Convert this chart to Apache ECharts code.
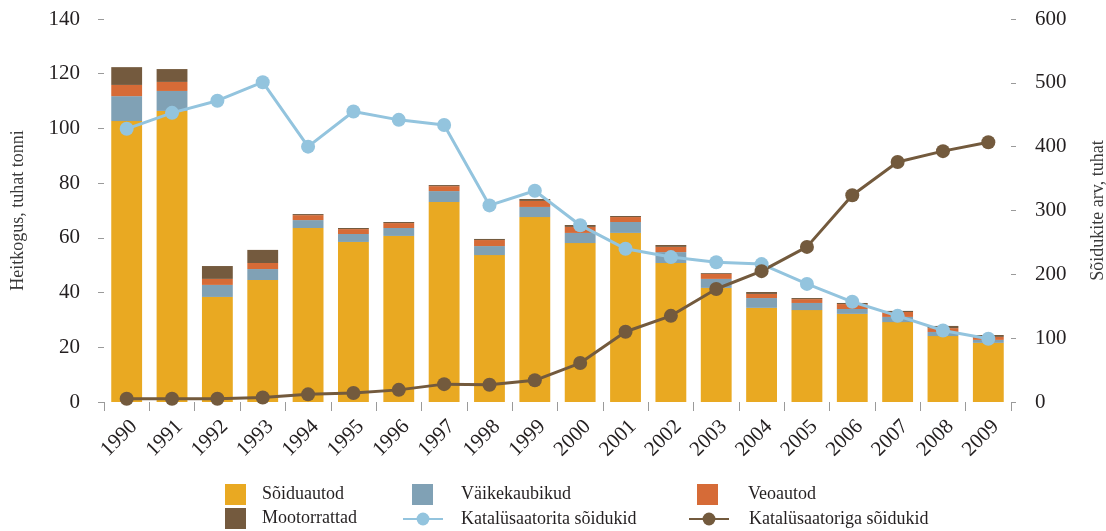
<!DOCTYPE html>
<html>
<head>
<meta charset="utf-8">
<script src="https://cdn.jsdelivr.net/npm/echarts@6/dist/echarts.min.js"></script>
<style>
  html, body { margin: 0; padding: 0; background: #fff; }
  #chart { width: 1106px; height: 531px; }
</style>
</head>
<body>
<div id="chart"></div>
<script>
// Andmed
const years = ['1990','1991','1992','1993','1994','1995','1996','1997','1998','1999',
               '2000','2001','2002','2003','2004','2005','2006','2007','2008','2009'];
const soiduautod    = [102.7,106.4,38.4,44.6,63.6,58.5,60.7,73.1,53.7,67.6,58.1,61.8,50.8,41.7,34.4,33.6,32.2,29.2,24.1,21.6];
const vaikekaubikud = [9.1,7.3,4.4,4.0,2.9,2.9,2.9,4.0,3.3,3.7,3.7,4.0,4.0,3.3,3.6,2.6,1.8,1.9,1.5,1.1];
const veoautod      = [4.1,3.3,2.2,2.2,1.8,1.8,1.8,1.8,2.2,2.2,2.2,1.8,1.9,1.8,1.5,1.4,1.8,1.8,1.4,1.1];
const mootorrattad  = [6.5,4.7,4.7,4.8,0.4,0.4,0.4,0.4,0.4,0.7,0.7,0.4,0.7,0.3,0.7,0.4,0.4,0.4,0.8,0.7];
const katalysaatorita = [428,453,472,501,400,455,442,434,308,331,277,240,227,219,216,185,157,135,112,99];
const katalysaatoriga = [5,5,5,7,12,14,19,28,27,34,61,110,135,177,205,243,324,376,393,407];

const font = 'Liberation Serif';
const tickColor = '#9a9a9a';
const textColor = '#231f20';

const chart = echarts.init(document.getElementById('chart'));

function barSeries(name, data, color) {
    return {
        name: name,
        type: 'bar',
        stack: 'heide',
        data: data,
        barWidth: '68%',
        itemStyle: { color: color },
        emphasis: { disabled: true }
    };
}

function lineSeries(name, data, color) {
    return {
        name: name,
        type: 'line',
        yAxisIndex: 1,
        data: data,
        symbol: 'circle',
        symbolSize: 14,
        lineStyle: { color: color, width: 3 },
        itemStyle: { color: color },
        emphasis: { disabled: true },
        z: 5
    };
}

// üks legendi kirje = üks komponent, et veerud paigutuks nagu originaalis
function legendItem(name, left, top, w, h, pad, icon) {
    const item = {
        data: [name],
        left: left,
        top: top,
        padding: 0,
        itemWidth: w,
        itemHeight: h,
        selectedMode: false,
        textStyle: { fontFamily: font, fontSize: 18, color: textColor, padding: [0, 0, 0, pad] }
    };
    if (icon) item.icon = icon;
    return item;
}

const option = {
    animation: false,
    textStyle: { fontFamily: font },
    grid: { left: 104, right: 95, top: 19, bottom: 129, outerBoundsMode: 'none' },
    legend: [
        legendItem('Sõiduautod', 225, 484, 21, 21, 11, 'rect'),
        legendItem('Väikekaubikud', 412, 484, 21, 21, 23, 'rect'),
        legendItem('Veoautod', 697, 484, 21, 21, 25, 'rect'),
        legendItem('Mootorrattad', 225, 508, 21, 21, 11, 'rect'),
        legendItem('Katalüsaatorita sõidukid', 402, 510, 40, 16, 13),
        legendItem('Katalüsaatoriga sõidukid', 688, 510, 40, 16, 15)
    ],
    xAxis: {
        type: 'category',
        data: years,
        axisLine: { show: false },
        axisTick: { show: true, length: 9, lineStyle: { color: tickColor } },
        axisLabel: { rotate: 45, verticalAlign: 'top', fontFamily: font, fontSize: 21, color: textColor, margin: 14 }
    },
    yAxis: [
        {
            type: 'value',
            min: 0, max: 140, interval: 20,
            name: 'Heitkogus, tuhat tonni',
            nameLocation: 'middle',
            nameRotate: 90,
            nameGap: 77,
            nameTextStyle: { fontFamily: font, fontSize: 18, color: '#3a3a3a' },
            axisLine: { show: false },
            axisTick: { show: true, length: 6, lineStyle: { color: tickColor } },
            axisLabel: { fontFamily: font, fontSize: 21, color: textColor, margin: 24 },
            splitLine: { show: false }
        },
        {
            type: 'value',
            min: 0, max: 600, interval: 100,
            name: 'Sõidukite arv, tuhat',
            nameLocation: 'middle',
            nameRotate: 90,
            nameGap: 78,
            nameTextStyle: { fontFamily: font, fontSize: 18, color: '#3a3a3a' },
            axisLine: { show: false },
            axisTick: { show: true, length: 5, lineStyle: { color: tickColor } },
            axisLabel: { fontFamily: font, fontSize: 21, color: textColor, margin: 24 },
            splitLine: { show: false }
        }
    ],
    series: [
        barSeries('Sõiduautod', soiduautod, '#E9A922'),
        barSeries('Väikekaubikud', vaikekaubikud, '#80A1B5'),
        barSeries('Veoautod', veoautod, '#D66B37'),
        barSeries('Mootorrattad', mootorrattad, '#745A3E'),
        lineSeries('Katalüsaatorita sõidukid', katalysaatorita, '#93C4DE'),
        lineSeries('Katalüsaatoriga sõidukid', katalysaatoriga, '#735A3D')
    ]
};

chart.setOption(option);

window.addEventListener('resize', () => {
    chart.resize();
});
</script>
</body>
</html>
